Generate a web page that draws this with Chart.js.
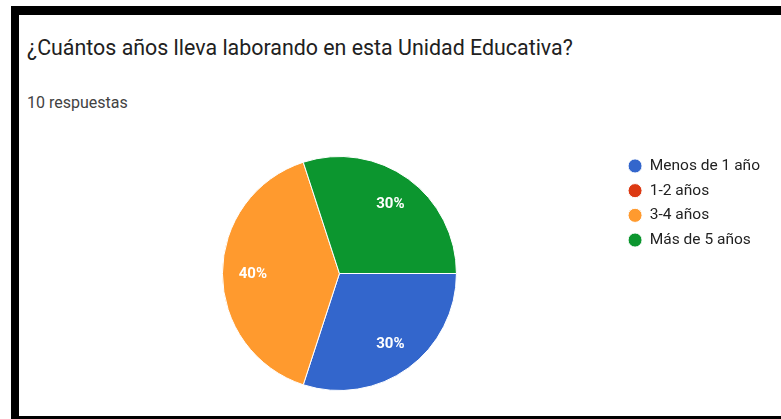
<!DOCTYPE html>
<html lang="es">
<head>
<meta charset="utf-8">
<title>¿Cuántos años lleva laborando en esta Unidad Educativa?</title>
<script src="https://cdn.jsdelivr.net/npm/chart.js@4.4.1/dist/chart.umd.min.js"></script>
<style>
    html, body {
        margin: 0;
        padding: 0;
        width: 781px;
        height: 419px;
        background: #fff;
        overflow: hidden;
        font-family: Roboto, Arial, sans-serif;
    }
    .frame {
        position: absolute;
        left: 11px;
        top: 6px;
        width: 770px;
        height: 413px;
        box-sizing: border-box;
        border-top: 9px solid #000;
        border-left: 8px solid #000;
        border-bottom: 3px solid #000;
    }
    .title {
        position: absolute;
        left: 27px;
        top: 35px;
        font-size: 21.4px;
        line-height: 26px;
        color: #212121;
        white-space: nowrap;
    }
    .subtitle {
        position: absolute;
        left: 27px;
        top: 93px;
        font-size: 16px;
        line-height: 19px;
        color: #424242;
        white-space: nowrap;
    }
    #chartBox {
        position: absolute;
        left: 19px;
        top: 140px;
        width: 762px;
        height: 270px;
    }
</style>
</head>
<body>
<div class="frame"></div>
<div class="title">¿Cuántos años lleva laborando en esta Unidad Educativa?</div>
<div class="subtitle">10 respuestas</div>
<div id="chartBox"><canvas id="yearsPieChart"></canvas></div>

<script>
// Datos de la encuesta (10 respuestas)
const categories = ['Menos de 1 año', '1-2 años', '3-4 años', 'Más de 5 años'];
const responses = [3, 0, 4, 3];
const sliceColors = ['#3366cc', '#dc3912', '#ff9a2e', '#0c962f'];

// Etiquetas de porcentaje dentro de cada porción
const percentLabels = {
    id: 'percentLabels',
    afterDatasetsDraw(chart) {
        const ctx = chart.ctx;
        const values = chart.data.datasets[0].data;
        const total = values.reduce((a, b) => a + b, 0);
        const meta = chart.getDatasetMeta(0);
        ctx.save();
        ctx.fillStyle = '#ffffff';
        ctx.font = 'bold 15px Roboto, Arial, sans-serif';
        ctx.textAlign = 'center';
        ctx.textBaseline = 'middle';
        meta.data.forEach(function(arc, i) {
            if (!values[i]) return;
            const p = arc.getProps(['x', 'y', 'startAngle', 'endAngle', 'outerRadius'], true);
            const mid = (p.startAngle + p.endAngle) / 2;
            const r = p.outerRadius * 0.74;
            const text = Math.round(values[i] / total * 100) + '%';
            ctx.fillText(text, p.x + Math.cos(mid) * r, p.y + Math.sin(mid) * r + 1);
        });
        ctx.restore();
    }
};

document.addEventListener('DOMContentLoaded', function() {
    const pieConfig = {
        type: 'pie',
        data: {
            labels: categories,
            datasets: [{
                data: responses,
                backgroundColor: sliceColors,
                borderColor: '#ffffff',
                borderWidth: 1
            }]
        },
        options: {
            responsive: true,
            maintainAspectRatio: false,
            animation: false,
            rotation: 90,
            radius: 117,
            layout: {
                padding: { left: 41, right: 11, top: 9, bottom: 12 }
            },
            plugins: {
                legend: {
                    position: 'right',
                    align: 'start',
                    labels: {
                        usePointStyle: true,
                        pointStyle: 'circle',
                        pointStyleWidth: 14,
                        boxHeight: 10,
                        padding: 9.2,
                        color: '#222222',
                        font: { family: 'Roboto', size: 15.5 }
                    }
                },
                tooltip: { enabled: false }
            }
        },
        plugins: [percentLabels]
    };

    new Chart(document.getElementById('yearsPieChart'), pieConfig);
});
</script>
</body>
</html>
